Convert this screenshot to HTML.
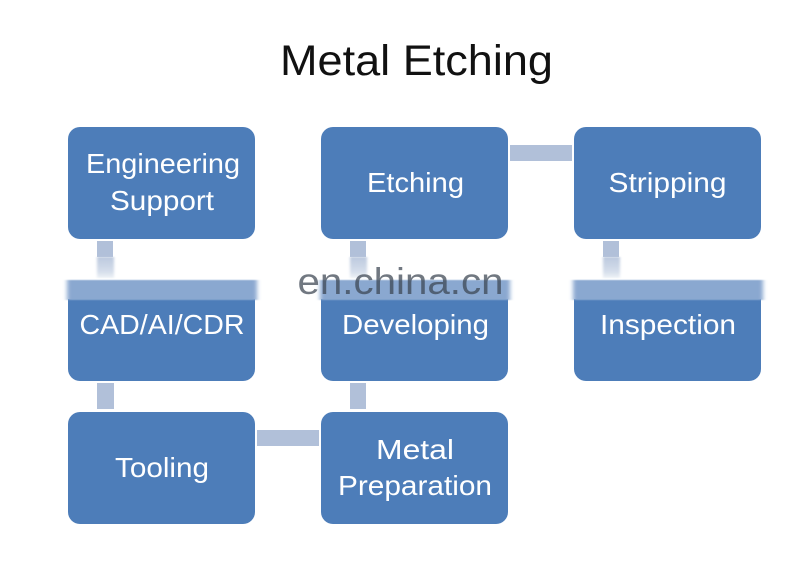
<!DOCTYPE html>
<html><head><meta charset="utf-8"><style>
html,body{margin:0;padding:0;background:#fff;width:800px;height:585px;overflow:hidden}
svg{display:block}
text{font-family:"Liberation Sans",sans-serif}
.l{fill:#fff;font-size:28px;text-anchor:middle}
</style></head><body>
<svg width="800" height="585" viewBox="0 0 800 585" xmlns="http://www.w3.org/2000/svg">
<defs>
<linearGradient id="f" x1="0" y1="0" x2="0" y2="1"><stop offset="0" stop-color="#bcc9de"/><stop offset=".7" stop-color="#d5deeb"/><stop offset="1" stop-color="#eef2f7"/></linearGradient>
<filter id="b" x="-5%" y="-20%" width="110%" height="140%"><feGaussianBlur stdDeviation="2 0.6"/></filter>
<filter id="c" x="-30%" y="-10%" width="160%" height="120%"><feGaussianBlur stdDeviation="1.2 0.8"/></filter>
</defs>
<rect width="800" height="585" fill="#fff"/>
<text x="416.500" y="75" font-size="43" text-anchor="middle" fill="#111" textLength="273" lengthAdjust="spacingAndGlyphs">Metal Etching</text>

<g fill="#b1c0d9">
<rect x="97" y="241" width="16" height="16"/>
<rect x="350" y="241" width="16" height="16"/>
<rect x="603" y="241" width="16" height="16"/>
<rect x="97" y="383" width="17" height="26"/>
<rect x="350" y="383" width="16" height="26"/>
<rect x="510" y="145" width="62" height="16"/>
<rect x="257" y="430" width="62" height="16"/>
</g>
<g fill="url(#f)" filter="url(#c)">
<rect x="97" y="257" width="17" height="21"/>
<rect x="350" y="257" width="17" height="21"/>
<rect x="603" y="257" width="17" height="21"/>
</g>

<g fill="#4d7db9">
<rect x="68" y="127" width="187" height="112" rx="12"/>
<rect x="321" y="127" width="187" height="112" rx="12"/>
<rect x="574" y="127" width="187" height="112" rx="12"/>
<path d="M68 299H255V369a12 12 0 0 1-12 12H80a12 12 0 0 1-12-12Z"/>
<path d="M321 299H508V369a12 12 0 0 1-12 12H333a12 12 0 0 1-12-12Z"/>
<path d="M574 299H761V369a12 12 0 0 1-12 12H586a12 12 0 0 1-12-12Z"/>
<rect x="68" y="412" width="187" height="112" rx="12"/>
<rect x="321" y="412" width="187" height="112" rx="12"/>
</g>
<g fill="#8aa8d0" filter="url(#b)">
<rect x="67" y="280" width="190" height="20"/>
<rect x="320" y="280" width="190" height="20"/>
<rect x="573" y="280" width="190" height="20"/>
</g>

<text class="l" x="163" y="173" textLength="154" lengthAdjust="spacingAndGlyphs">Engineering</text>
<text class="l" x="162" y="210" textLength="104" lengthAdjust="spacingAndGlyphs">Support</text>
<text class="l" x="415.500" y="192" textLength="97" lengthAdjust="spacingAndGlyphs">Etching</text>
<text class="l" x="667.500" y="192" textLength="118" lengthAdjust="spacingAndGlyphs">Stripping</text>
<text class="l" x="162" y="334" textLength="165" lengthAdjust="spacingAndGlyphs">CAD/AI/CDR</text>
<text class="l" x="415.500" y="334" textLength="147" lengthAdjust="spacingAndGlyphs">Developing</text>
<text class="l" x="668" y="334" textLength="136" lengthAdjust="spacingAndGlyphs">Inspection</text>
<text class="l" x="162" y="477" textLength="94" lengthAdjust="spacingAndGlyphs">Tooling</text>
<text class="l" x="415" y="459" textLength="78" lengthAdjust="spacingAndGlyphs">Metal</text>
<text class="l" x="415" y="495" textLength="154" lengthAdjust="spacingAndGlyphs">Preparation</text>

<text x="400.500" y="294" font-size="37" text-anchor="middle" fill="#3a4450" fill-opacity=".72" textLength="206" lengthAdjust="spacingAndGlyphs">en.china.cn</text>
</svg>
</body></html>
